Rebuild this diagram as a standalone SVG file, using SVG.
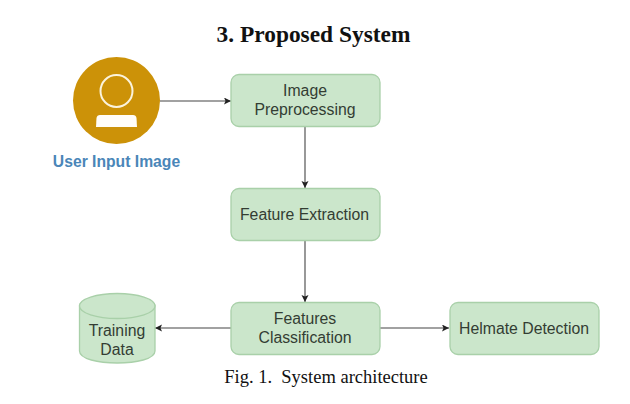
<svg xmlns="http://www.w3.org/2000/svg" width="630" height="404" viewBox="0 0 630 404">
<defs>
<marker id="arrow" markerUnits="userSpaceOnUse" markerWidth="8" markerHeight="8" refX="7" refY="3.5" orient="auto"><path d="M0,0 L7,3.5 L0,7 L1.5,3.5 Z" fill="#222"/></marker>
</defs>
<style>
.box{fill:#cbe6cb;stroke:#a9d0a9;stroke-width:1.3}
.lbl{font-family:"Liberation Sans",Arial,sans-serif;font-size:15.8px;fill:#333d33;text-anchor:middle}
.ser{font-family:"Liberation Serif","Times New Roman",serif;fill:#111;text-anchor:middle}
.conn{fill:none;stroke:#444;stroke-width:1.1;marker-end:url(#arrow)}
</style>
<rect width="630" height="404" fill="#fff"/>
<text class="ser" x="313.500" y="42" font-size="23.400" font-weight="bold">3. Proposed System</text>
<g id="connectors">
<path class="conn" d="M160 101H231"/>
<path class="conn" d="M305 127V188"/>
<path class="conn" d="M305 241V302"/>
<path class="conn" d="M231 328H155"/>
<path class="conn" d="M380 328H449"/>
</g>
<g id="user-input">
<circle cx="116.500" cy="100.500" r="43.500" fill="#cc9208"/>
<circle cx="116.500" cy="91" r="16" fill="none" stroke="#fbf3dc" stroke-width="2"/>
<path d="M100 115H133Q136 115 136.500 118L137 127H96L96.500 118Q97 115 100 115Z" fill="#fffdf8"/>
<text x="116.500" y="166.500" font-family="Liberation Sans,Arial,sans-serif" font-size="15.700" font-weight="bold" fill="#4a86b8" text-anchor="middle">User Input Image</text>
</g>
<g id="image-preprocessing">
<rect class="box" x="231" y="74.500" width="149" height="52" rx="8"/>
<text class="lbl" x="305" y="96">Image</text>
<text class="lbl" x="305" y="115">Preprocessing</text>
</g>
<g id="feature-extraction">
<rect class="box" x="231" y="188.500" width="149" height="52" rx="8"/>
<text class="lbl" x="304.500" y="219.500">Feature Extraction</text>
</g>
<g id="features-classification">
<rect class="box" x="231" y="302.500" width="149" height="52" rx="8"/>
<text class="lbl" x="305" y="323.500">Features</text>
<text class="lbl" x="305" y="343">Classification</text>
</g>
<g id="helmate-detection">
<rect class="box" x="450" y="302.500" width="149" height="52" rx="8"/>
<text class="lbl" x="524" y="333.500">Helmate Detection</text>
</g>
<g id="training-data">
<path class="box" d="M79.500 306C79.500 298 155 298 155 306V352C155 368 79.500 368 79.500 352Z" transform="translate(0,-1)"/>
<ellipse cx="117.250" cy="306" rx="37.750" ry="12.500" class="box"/>
<text class="lbl" x="117" y="335.500">Training</text>
<text class="lbl" x="117" y="355">Data</text>
</g>
<text class="ser" x="326" y="383" font-size="18.500" xml:space="preserve">Fig. 1.  System architecture</text>
</svg>
